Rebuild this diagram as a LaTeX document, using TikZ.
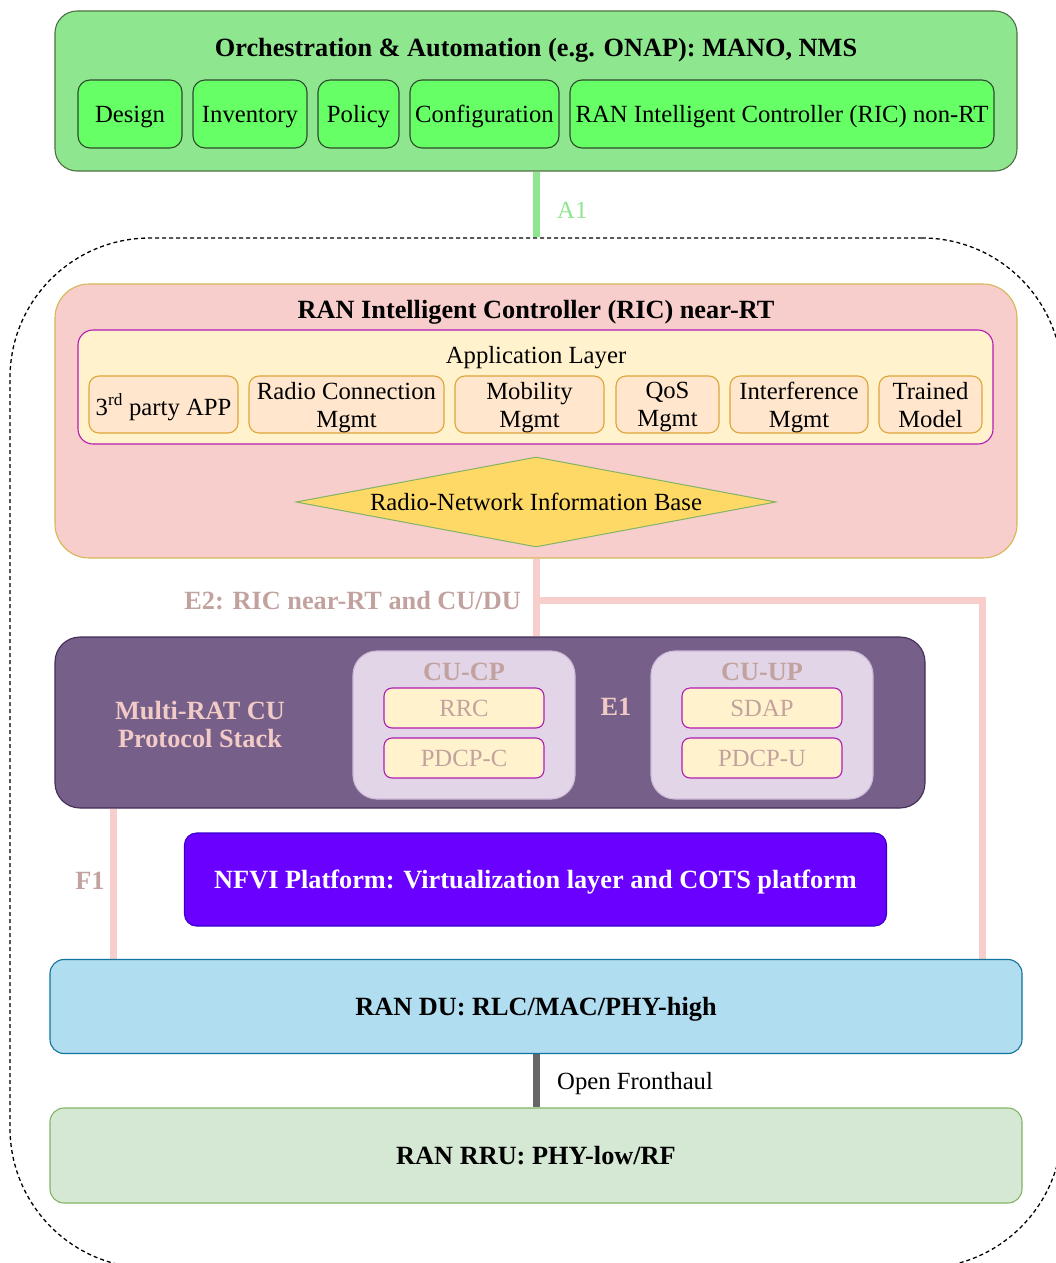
\documentclass[tikz,border=0pt]{standalone}
\usepackage{fontspec}
\setmainfont{Liberation Serif}
\usetikzlibrary{shapes.geometric,backgrounds}

% palette
\definecolor{orchfill}{HTML}{8EE68E}
\definecolor{orchdraw}{HTML}{4F7045}
\definecolor{itemfill}{HTML}{66FF66}
\definecolor{itemdraw}{HTML}{2E4A2E}
\definecolor{aonecol}{HTML}{8EE68E}
\definecolor{ricfill}{HTML}{F8CECC}
\definecolor{ricdraw}{HTML}{D6B656}
\definecolor{appfill}{HTML}{FFF2CC}
\definecolor{appdraw}{HTML}{B31BB3}
\definecolor{xappfill}{HTML}{FFE6CC}
\definecolor{xappdraw}{HTML}{DDA63A}
\definecolor{rnibfill}{HTML}{FFD966}
\definecolor{rnibdraw}{HTML}{82B366}
\definecolor{ifline}{HTML}{F8CECC}
\definecolor{iflabel}{HTML}{C2A29E}
\definecolor{cufill}{HTML}{76608A}
\definecolor{cudraw}{HTML}{432D57}
\definecolor{cutext}{HTML}{F2CAC6}
\definecolor{subfill}{HTML}{E1D5E7}
\definecolor{subdraw}{HTML}{CDB8D8}
\definecolor{nfvifill}{HTML}{6A00FF}
\definecolor{nfvidraw}{HTML}{3700CC}
\definecolor{dufill}{HTML}{B1DDF0}
\definecolor{dudraw}{HTML}{10739E}
\definecolor{rrufill}{HTML}{D5E8D4}
\definecolor{rrudraw}{HTML}{82B366}
\definecolor{fhline}{HTML}{666666}

\newcommand\fnreg{\fontsize{24.7}{28}\selectfont}
\newcommand\fnbold{\fontsize{26.3}{28}\selectfont\bfseries}

\tikzset{
  sz/.style 2 args={minimum width=#1pt, minimum height=#2pt},
  boxbase/.style={rectangle, inner sep=0pt, align=center, line width=1.1pt, text depth=0pt},
  orchbox/.style={boxbase, draw=orchdraw, fill=orchfill, rounded corners=22pt},
  orchitem/.style={boxbase, draw=itemdraw, fill=itemfill, rounded corners=12pt, font=\fnreg},
  ricbox/.style={boxbase, draw=ricdraw, fill=ricfill, rounded corners=34pt},
  appbox/.style={boxbase, draw=appdraw, fill=appfill, rounded corners=15pt},
  xapp/.style={boxbase, draw=xappdraw, fill=xappfill, rounded corners=10pt, font=\fnreg},
  rnib/.style={diamond, inner sep=0pt, draw=rnibdraw, fill=rnibfill, line width=1pt,
    aspect=5.33, font=\fnreg, text depth=0pt},
  cubox/.style={boxbase, draw=cudraw, fill=cufill, rounded corners=25pt},
  subbox/.style={boxbase, draw=subdraw, fill=subfill, rounded corners=24pt},
  layerbox/.style={boxbase, draw=appdraw, fill=appfill, rounded corners=8pt,
    font=\fnreg, text=iflabel},
  nfvibox/.style={boxbase, draw=nfvidraw, fill=nfvifill, rounded corners=12pt,
    font=\fnbold, text=white},
  dubox/.style={boxbase, draw=dudraw, fill=dufill, rounded corners=14pt, font=\fnbold},
  rrubox/.style={boxbase, draw=rrudraw, fill=rrufill, rounded corners=14pt, font=\fnbold},
  headtext/.style={inner sep=0pt, align=center, font=\fnbold, text depth=0pt},
  bodytext/.style={inner sep=0pt, align=center, font=\fnreg, text depth=0pt},
  ifwire/.style={draw=ifline, line width=7pt},
  aonewire/.style={draw=aonecol, line width=7pt},
  fhwire/.style={draw=fhline, line width=7pt},
  ranzone/.style={draw=black, dash pattern=on 4pt off 3pt, line width=1.3pt,
    rectangle, rounded corners=140pt, inner sep=0pt},
}

\begin{document}
\begin{tikzpicture}[x=1pt, y=-1pt]
\useasboundingbox (0,0) rectangle (1056,1263);

% dashed RAN domain (runs past the page edge on the right and bottom)
\node[ranzone, sz={1052}{1030}] (ran) at (536,753) {};

% orchestration layer
\node[orchbox, sz={962}{160}] (orch) at (536,91) {};
\node[headtext] (orchtitle) at (536,47) {Orchestration \& Automation (e.g. ONAP): MANO, NMS};
\node[orchitem, sz={104}{68}] (design) at (130,114) {Design};
\node[orchitem, sz={114}{68}] (inventory) at (250,114) {Inventory};
\node[orchitem, sz={81}{68}] (policy) at (358.5,114) {Policy};
\node[orchitem, sz={149}{68}] (config) at (484.5,114) {Configuration};
\node[orchitem, sz={424}{68}] (nonrt) at (782,114) {RAN Intelligent Controller (RIC) non-RT};

% near-RT RIC
\node[ricbox, sz={962}{274}] (ric) at (536,421) {};
\node[headtext] (rictitle) at (536,309) {RAN Intelligent Controller (RIC) near-RT};
\node[appbox, sz={915}{114}] (applayer) at (535.5,387) {};
\node[bodytext] (apptitle) at (536,355) {Application Layer};
\node[xapp, sz={149}{57}] (third) at (163.5,404.5) {3\textsuperscript{rd} party APP};
\node[xapp, sz={195}{57}] (rcm) at (346.5,404.5) {Radio Connection\\Mgmt};
\node[xapp, sz={149}{57}] (mob) at (529.5,404.5) {Mobility\\Mgmt};
\node[xapp, sz={103}{57}] (qos) at (667.5,404.5) {QoS\\Mgmt};
\node[xapp, sz={138}{57}] (intf) at (799,404.5) {Interference\\Mgmt};
\node[xapp, sz={103}{57}] (trained) at (930.5,404.5) {Trained\\Model};
\node[rnib, sz={480}{90}] (rnibase) at (536,502) {Radio-Network Information Base};

% multi-RAT CU
\node[cubox, sz={870}{171}] (cu) at (490,722.5) {};
\node[headtext, text=cutext] (cutitle) at (200,724) {Multi-RAT CU\\Protocol Stack};
\node[subbox, sz={222}{148}] (cucp) at (464,725) {};
\node[headtext, text=iflabel] (cucptitle) at (464,672) {CU-CP};
\node[layerbox, sz={160}{40}] (rrc) at (464,708) {RRC};
\node[layerbox, sz={160}{40}] (pdcpc) at (464,758) {PDCP-C};
\node[subbox, sz={222}{148}] (cuup) at (762,725) {};
\node[headtext, text=iflabel] (cuuptitle) at (762,672) {CU-UP};
\node[layerbox, sz={160}{40}] (sdap) at (762,708) {SDAP};
\node[layerbox, sz={160}{40}] (pdcpu) at (762,758) {PDCP-U};

% platform, DU and RRU
\node[nfvibox, sz={702}{93}] (nfvi) at (535.5,879.5) {NFVI Platform: Virtualization layer and COTS platform};
\node[dubox, sz={972}{94}] (du) at (536,1006.5) {RAN DU: RLC/MAC/PHY-high};
\node[rrubox, sz={972}{95}] (rru) at (536,1155.5) {RAN RRU: PHY-low/RF};

% interface labels
\node[bodytext, text=aonecol, anchor=west] (aonelbl) at (557,210) {A1};
\node[headtext, text=iflabel, anchor=east] (etwolbl) at (521,600) {E2: RIC near-RT and CU/DU};
\node[headtext, text=cutext] (eonelbl) at (616,707) {E1};
\node[headtext, text=iflabel] (fonelbl) at (90,881) {F1};
\node[bodytext, anchor=west] (fhlbl) at (557,1081) {Open Fronthaul};

% interface wires, kept under the boxes
\coordinate (etwoy) at (536,600);
\coordinate (etwox) at (982,600);
\coordinate (fonex) at (113,900);
\begin{pgfonlayer}{background}
  \draw[aonewire] (orch.south) -- (ran.north);
  \draw[ifwire] (ric.south) -- (ric.south |- cu.north);
  \draw[ifwire] (etwoy) -| (du.north -| etwox);
  \draw[ifwire] (cucp.east) -- (cuup.west);
  \draw[ifwire] (cu.south -| fonex) -- (du.north -| fonex);
  \draw[fhwire] (du.south) -- (rru.north);
\end{pgfonlayer}
\end{tikzpicture}
\end{document}
